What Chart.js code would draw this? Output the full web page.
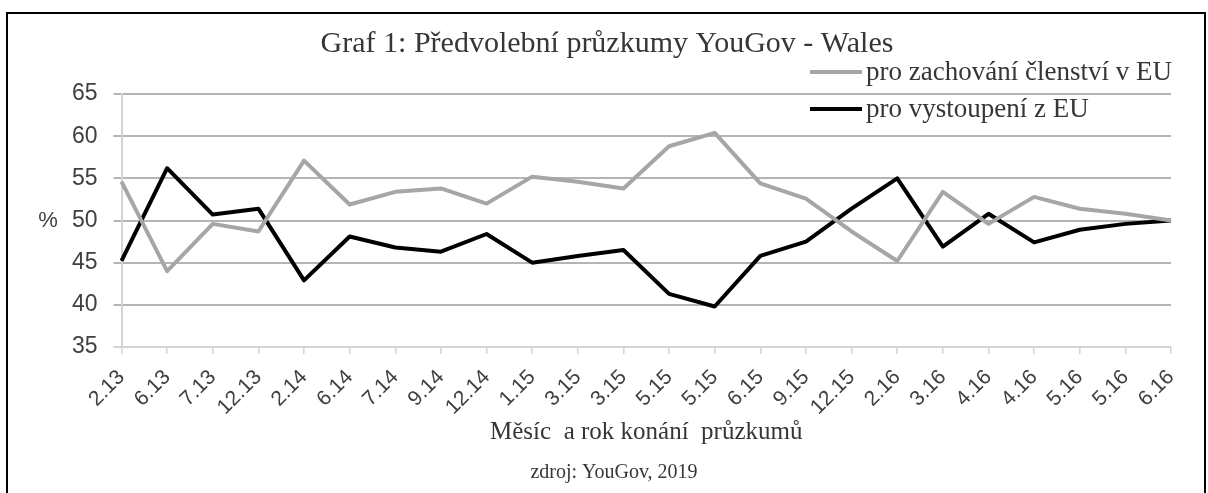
<!DOCTYPE html>
<html>
<head>
<meta charset="utf-8">
<script src="https://cdn.jsdelivr.net/npm/chart.js@4.4.1/dist/chart.umd.min.js"></script>
<style>
  html, body { margin: 0; padding: 0; background: #fff; }
  #frame {
    position: absolute; left: 6px; top: 12px; width: 1196px; height: 490px;
    border: 2px solid #000; border-bottom: none;
  }
  #wrap { position: absolute; left: 0; top: 0; width: 1208px; height: 493px; }
</style>
</head>
<body>
<div id="frame"></div>
<div id="wrap"><canvas id="chart" width="1208" height="493"></canvas></div>
<script>
// -------------------- Data --------------------
const months = ['2.13', '6.13', '7.13', '12.13', '2.14', '6.14', '7.14', '9.14', '12.14', '1.15', '3.15', '3.15',
                '5.15', '5.15', '6.15', '9.15', '12.15', '2.16', '3.16', '4.16', '4.16', '5.16', '5.16', '6.16'];
const remainValues = [54.6, 44.0, 49.6, 48.7, 57.1, 51.9, 53.4, 53.8, 52.0, 55.2, 54.6, 53.8,
                      58.8, 60.4, 54.4, 52.6, 48.7, 45.2, 53.4, 49.6, 52.8, 51.4, 50.8, 50.0];
const leaveValues = [45.2, 56.2, 50.7, 51.4, 42.9, 48.1, 46.8, 46.3, 48.4, 45.0, 45.8, 46.5,
                     41.3, 39.8, 45.8, 47.5, 51.4, 55.0, 46.9, 50.8, 47.4, 48.9, 49.6, 50.0];
const yTicks = [35, 40, 45, 50, 55, 60, 65];

const titleText = 'Graf 1: Předvolební průzkumy YouGov - Wales';
const sourceText = 'zdroj: YouGov, 2019';
const SERIF = '"Liberation Serif", "Times New Roman", serif';
const SANS = '"Liberation Sans", Arial, sans-serif';

// -------------------- Extra texts & legend --------------------
const extras = {
    id: 'extras',
    afterDraw(chart) {
        const ctx = chart.ctx;
        ctx.save();
        ctx.fillStyle = '#363636';
        ctx.textBaseline = 'alphabetic';

        // title
        ctx.font = '30px ' + SERIF;
        ctx.textAlign = 'center';
        ctx.fillText(titleText, 607, 52);

        // legend
        ctx.font = '27px ' + SERIF;
        ctx.textAlign = 'left';
        chart.data.datasets.forEach((ds, i) => {
            const y = 72 + i * 37;
            ctx.strokeStyle = ds.borderColor;
            ctx.lineWidth = 4;
            ctx.beginPath();
            ctx.moveTo(810, y);
            ctx.lineTo(862, y);
            ctx.stroke();
            ctx.fillStyle = '#363636';
            ctx.fillText(ds.label, 866, y + 8);
        });

        // % label
        ctx.font = '22px ' + SANS;
        ctx.fillStyle = '#404040';
        ctx.textAlign = 'center';
        ctx.textBaseline = 'middle';
        ctx.fillText('%', 48, 221);

        // source
        ctx.font = '20px ' + SERIF;
        ctx.fillStyle = '#363636';
        ctx.textBaseline = 'alphabetic';
        ctx.fillText(sourceText, 614, 478);
        ctx.restore();
    }
};

new Chart(document.getElementById('chart'), {
    type: 'line',
    data: {
        labels: months,
        datasets: [
            { label: 'pro zachování členství v EU', data: remainValues, borderColor: '#a6a6a6', borderWidth: 4,
              pointRadius: 0, tension: 0, borderJoinStyle: 'round', fill: false },
            { label: 'pro vystoupení z EU', data: leaveValues, borderColor: '#000000', borderWidth: 4,
              pointRadius: 0, tension: 0, borderJoinStyle: 'round', fill: false }
        ]
    },
    options: {
        responsive: false,
        animation: false,
        events: [],
        layout: { padding: { top: 94, right: 37, bottom: 38, left: 0 } },
        plugins: { legend: { display: false }, title: { display: false }, tooltip: { enabled: false } },
        scales: {
            x: {
                grid: { drawOnChartArea: false, drawTicks: true, tickLength: 7, color: '#d4d4d4', lineWidth: 1.5 },
                border: { color: '#d4d4d4', width: 2 },
                ticks: { autoSkip: false, minRotation: 45, maxRotation: 45, padding: 11,
                         color: '#404040', font: { family: SANS, size: 21 } },
                title: { display: true, text: 'Měsíc  a rok konání  průzkumů', color: '#363636',
                         font: { family: SERIF, size: 25 }, padding: { top: 0, bottom: 8 } },
                afterFit(scale) { scale.height = 108; }
            },
            y: {
                min: 35, max: 65,
                afterBuildTicks(scale) { scale.ticks = yTicks.map(v => ({ value: v })); },
                grid: { color: c => c.tick && c.tick.value === 35 ? '#d4d4d4' : '#b4b4b4', lineWidth: 2,
                        drawTicks: true, tickLength: 8 },
                border: { color: '#d4d4d4', width: 2 },
                ticks: { padding: 16, color: '#404040', font: { family: SANS, size: 23 } },
                afterFit(scale) { scale.width = 121.5; }
            }
        }
    },
    plugins: [extras]
});
</script>
</body>
</html>
